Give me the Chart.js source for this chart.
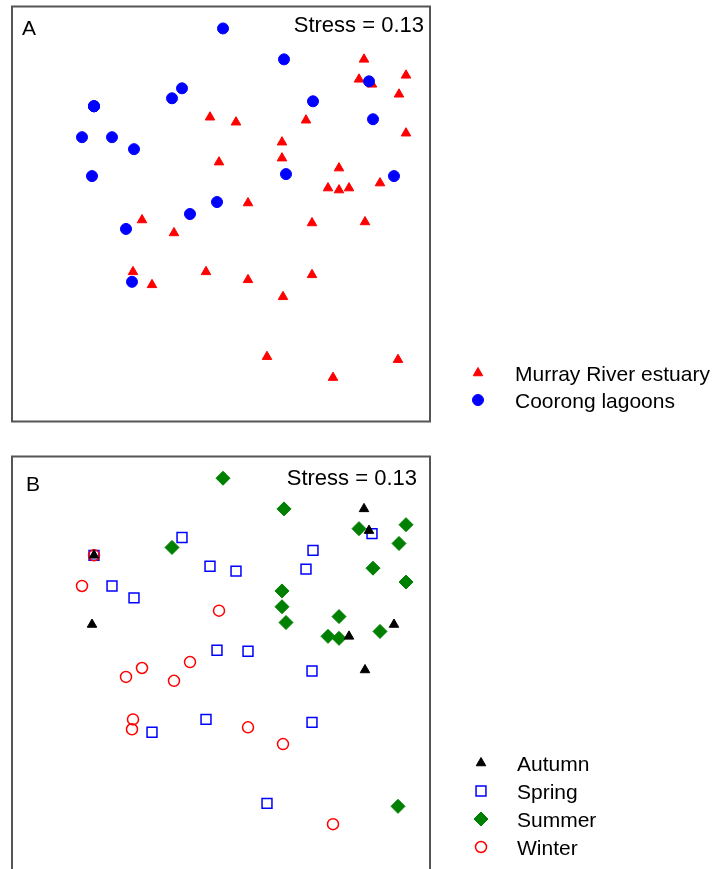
<!DOCTYPE html>
<html>
<head>
<meta charset="utf-8">
<title>nMDS ordination</title>
<script src="https://cdn.jsdelivr.net/npm/chart.js"></script>
<style>
  html, body { margin: 0; padding: 0; width: 718px; height: 869px; background: #fff; overflow: hidden; }
  .panel { position: absolute; left: 0; width: 718px; overflow: hidden; }
  #panelA { top: 0; height: 428px; }
  #panelB { top: 448px; height: 421px; }
</style>
</head>
<body>
<div class="panel" id="panelA"><canvas id="chartA" width="718" height="428"></canvas></div>
<div class="panel" id="panelB"><canvas id="chartB" width="718" height="440"></canvas></div>
<script>
// nMDS scores, one entry per sample (same ordination in both panels)

var mds1 = [
  1.43, 1.85, 1.38, 1.51, 1.78, -0.11, 0.15, 0.85, 1.85, 0.61,
  -0.02, 0.61, 1.18, 1.59, 1.07, 1.18, 1.28, 0.27, -0.79, -0.47,
  0.91, 1.44, -0.88, -0.15, 0.27, 0.91, -0.69, 0.62, 0.46, 1.77,
  1.12,
  0.02, 0.63, 1.48, -0.39, -0.49, 0.92, -1.27, -1.27, -1.27, 1.52,
  -1.39, -1.09, -0.87, -1.29, 0.65, 1.73, -0.04, -0.31, -0.95, -0.89
];
var mds2 = [
  1.55, 1.39, 1.35, 1.30, 1.20, 0.97, 0.92, 0.94, 0.81, 0.72,
  0.52, 0.56, 0.46, 0.31, 0.26, 0.24, 0.26, 0.11, -0.06, -0.19,
  -0.09, -0.08, -0.58, -0.58, -0.66, -0.61, -0.71, -0.83, -1.43, -1.46,
  -1.64,
  1.86, 1.55, 1.33, 1.26, 1.16, 1.13, 1.08, 1.08, 1.08, 0.95,
  0.77, 0.77, 0.65, 0.38, 0.40, 0.38, 0.12, 0.00, -0.15, -0.68
];
var site = [
  "M", "M", "M", "M", "M", "M", "M", "M", "M", "M",
  "M", "M", "M", "M", "M", "M", "M", "M", "M", "M",
  "M", "M", "M", "M", "M", "M", "M", "M", "M", "M",
  "M",
  "C", "C", "C", "C", "C", "C", "C", "C", "C", "C",
  "C", "C", "C", "C", "C", "C", "C", "C", "C", "C"
];
var season = [
  "Autumn", "Summer", "Summer", "Spring", "Summer", "Spring", "Spring", "Spring", "Summer", "Summer",
  "Winter", "Summer", "Summer", "Summer", "Summer", "Summer", "Autumn", "Spring", "Winter", "Winter",
  "Spring", "Autumn", "Winter", "Spring", "Winter", "Spring", "Spring", "Winter", "Spring", "Summer",
  "Winter",
  "Summer", "Summer", "Autumn", "Spring", "Summer", "Spring", "Autumn", "Spring", "Winter", "Summer",
  "Winter", "Spring", "Spring", "Autumn", "Summer", "Autumn", "Spring", "Winter", "Winter", "Winter"
];

var siteCodes = ["M", "C"];
var siteNames = ["Murray River estuary", "Coorong lagoons"];
var seasonNames = ["Autumn", "Spring", "Summer", "Winter"];
var stress = 0.13;

function pointsFor(groups, value) {
  var pts = [];
  for (var i = 0; i < mds1.length; i++) {
    if (groups[i] === value) pts.push({ x: mds1[i], y: mds2[i] });
  }
  return pts;
}

var FACE = '"Liberation Sans", Arial, Helvetica, sans-serif';

// frame, panel letter, stress value and legend
var panelDeco = {
  id: 'panelDeco',
  afterDatasetsDraw: function (chart, args, opts) {
    var ctx = chart.ctx;
    var a = chart.chartArea;
    ctx.save();
    ctx.strokeStyle = '#555555';
    ctx.lineWidth = 2;
    ctx.strokeRect(a.left, a.top, a.right - a.left, a.bottom - a.top);

    ctx.fillStyle = '#000';
    ctx.font = '21px ' + FACE;
    ctx.textBaseline = 'alphabetic';
    ctx.textAlign = 'left';
    ctx.fillText(opts.letter, a.left + opts.letterX, a.top + opts.letterY);
    ctx.font = '22px ' + FACE;
    ctx.textAlign = 'right';
    ctx.fillText('Stress = ' + stress.toFixed(2), a.right - opts.stressX, a.top + opts.stressY);

    ctx.font = '21px ' + FACE;
    chart.data.datasets.forEach(function (ds, i) {
      var y = opts.legendY + i * opts.legendGap;
      ctx.fillStyle = ds.pointBackgroundColor;
      ctx.strokeStyle = ds.pointBorderColor;
      ctx.lineWidth = ds.pointBorderWidth;
      Chart.helpers.drawPoint(ctx, {
        pointStyle: ds.pointStyle,
        radius: ds.pointRadius,
        borderWidth: ds.pointBorderWidth,
        rotation: 0
      }, opts.legendX, y);
      ctx.fillStyle = '#000';
      ctx.textAlign = 'left';
      ctx.fillText(ds.label, opts.textX, y + 8);
    });
    ctx.restore();
  }
};

function baseOptions(deco, yMin) {
  return {
    responsive: false,
    animation: false,
    events: [],
    layout: { padding: { left: 12, top: 6, right: 288, bottom: 6 } },
    scales: {
      x: { type: 'linear', display: false, min: -2.09, max: 2.09 },
      y: { type: 'linear', display: false, min: yMin, max: 2.08 }
    },
    plugins: {
      legend: { display: false },
      tooltip: { enabled: false },
      panelDeco: deco
    }
  };
}

// panel A: by location
new Chart(document.getElementById('chartA'), {
  type: 'scatter',
  data: {
    datasets: [
      {
        label: siteNames[0],
        data: pointsFor(site, siteCodes[0]),
        pointStyle: 'triangle',
        pointRadius: 5.5,
        pointBackgroundColor: '#ff0000',
        pointBorderColor: '#ff0000',
        pointBorderWidth: 1,
        clip: false,
        order: 1
      },
      {
        label: siteNames[1],
        data: pointsFor(site, siteCodes[1]),
        pointStyle: 'circle',
        pointRadius: 5.5,
        pointBackgroundColor: '#0000ff',
        pointBorderColor: '#0000ff',
        pointBorderWidth: 1,
        clip: false,
        order: 0
      }
    ]
  },
  options: baseOptions({
    letter: 'A', letterX: 10, letterY: 28, stressX: 6, stressY: 25,
    legendX: 478, textX: 515, legendY: 373, legendGap: 27
  }, -2.08),
  plugins: [panelDeco]
});

// panel B: by season (frame runs past the bottom of the page)
var seasonStyle = {
  Autumn: { shape: 'triangle', r: 5.5, fill: '#000000', line: '#000000', w: 1, order: 0 },
  Spring: { shape: 'rect', r: 7, fill: 'rgba(0,0,0,0)', line: '#0000ff', w: 1.5, order: 3 },
  Summer: { shape: 'rectRot', r: 7, fill: '#008000', line: '#008000', w: 1, order: 2 },
  Winter: { shape: 'circle', r: 5.5, fill: 'rgba(0,0,0,0)', line: '#ff0000', w: 1.5, order: 1 }
};

new Chart(document.getElementById('chartB'), {
  type: 'scatter',
  data: {
    datasets: seasonNames.map(function (s) {
      var st = seasonStyle[s];
      return {
        label: s,
        data: pointsFor(season, s),
        pointStyle: st.shape,
        pointRadius: st.r,
        pointBackgroundColor: st.fill,
        pointBorderColor: st.line,
        pointBorderWidth: st.w,
        clip: false,
        order: st.order
      };
    })
  },
  options: baseOptions({
    letter: 'B', letterX: 14, letterY: 34, stressX: 13, stressY: 28,
    legendX: 481, textX: 517, legendY: 315, legendGap: 28
  }, -2.20),
  plugins: [panelDeco]
});
</script>
</body>
</html>
